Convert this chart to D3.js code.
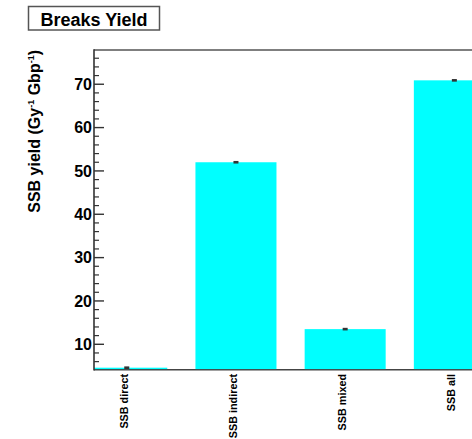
<!DOCTYPE html>
<html>
<head>
<meta charset="utf-8">
<script src="https://cdn.jsdelivr.net/npm/d3@7"></script>
<style>
  body { margin: 0; background: #fff; }
  text { font-family: "Liberation Sans", Arial, Helvetica, sans-serif; font-weight: bold; }
</style>
</head>
<body>
<div id="vis"></div>
<script>
var categories = ['SSB direct', 'SSB indirect', 'SSB mixed', 'SSB all'];
var yields = [4.6, 52.0, 13.5, 70.9];
var errors = [0.3, 0.3, 0.3, 0.3];
var majorTicks = [10, 20, 30, 40, 50, 60, 70];

var width = 472;
var height = 439;
var frame = {left: 94, top: 50, bottom: 369.3};

var svg = d3.select('#vis')
    .append('svg')
    .attr('width', width)
    .attr('height', height);

// bins are numbered 1..4, frame starts a little left of the first bar
var x = d3.scaleLinear()
    .domain([0.7, 4.5])
    .range([frame.left, frame.left + 3.8 * 109.2]);

var y = d3.scaleLinear()
    .domain([4.23, 77.9])
    .range([frame.bottom, frame.top]);

var barWidth = 0.742;

svg.append('defs').append('clipPath')
    .attr('id', 'frameclip')
    .append('rect')
    .attr('x', frame.left)
    .attr('y', frame.top)
    .attr('width', width - frame.left)
    .attr('height', frame.bottom - frame.top);

// bottom axis line, bars are drawn over it
svg.append('line')
    .attr('x1', frame.left).attr('x2', width)
    .attr('y1', frame.bottom + 0.5).attr('y2', frame.bottom + 0.5)
    .attr('stroke', '#444')
    .attr('stroke-width', 1.6);

var plot = svg.append('g').attr('clip-path', 'url(#frameclip)');

plot.selectAll('.bar')
    .data(yields)
    .enter().append('rect')
    .attr('class', 'bar')
    .attr('x', function (d, i) { return x(i + 1 - barWidth / 2); })
    .attr('width', function () { return x(barWidth) - x(0); })
    .attr('y', function (d) { return y(d); })
    .attr('height', function (d) { return frame.bottom - y(d); })
    .attr('fill', '#00ffff');

plot.selectAll('.err')
    .data(yields)
    .enter().append('rect')
    .attr('class', 'err')
    .attr('x', function (d, i) { return x(i + 1) - 2.5; })
    .attr('width', 5)
    .attr('y', function (d, i) { return y(d + errors[i]); })
    .attr('height', function (d, i) { return Math.max(2, y(d - errors[i]) - y(d + errors[i])); })
    .attr('fill', '#333');

// frame top
svg.append('line')
    .attr('x1', frame.left).attr('x2', width)
    .attr('y1', frame.top).attr('y2', frame.top)
    .attr('stroke', '#555')
    .attr('stroke-width', 1.5);

// y axis
var minorTicks = d3.range(6, 78, 2).filter(function (v) { return v % 10 !== 0; });

svg.append('line')
    .attr('x1', frame.left).attr('x2', frame.left)
    .attr('y1', frame.top - 0.7).attr('y2', frame.bottom + 1.3)
    .attr('stroke', '#333')
    .attr('stroke-width', 1.6);

svg.selectAll('.minor')
    .data(minorTicks)
    .enter().append('line')
    .attr('class', 'minor')
    .attr('x1', frame.left).attr('x2', frame.left + 5)
    .attr('y1', function (d) { return y(d); })
    .attr('y2', function (d) { return y(d); })
    .attr('stroke', '#333')
    .attr('stroke-width', 1.2);

svg.selectAll('.major')
    .data(majorTicks)
    .enter().append('line')
    .attr('class', 'major')
    .attr('x1', frame.left).attr('x2', frame.left + 10)
    .attr('y1', function (d) { return y(d); })
    .attr('y2', function (d) { return y(d); })
    .attr('stroke', '#333')
    .attr('stroke-width', 1.4);

svg.selectAll('.ylabel')
    .data(majorTicks)
    .enter().append('text')
    .attr('class', 'ylabel')
    .attr('x', frame.left - 2)
    .attr('y', function (d) { return y(d); })
    .attr('dy', '0.36em')
    .attr('text-anchor', 'end')
    .style('font-size', '16px')
    .style('fill', '#000')
    .text(function (d) { return d; });

// y title with superscripts
var ytitle = svg.append('text')
    .attr('transform', 'translate(39.5,' + frame.top + ') rotate(-90)')
    .attr('text-anchor', 'end')
    .style('font-size', '16px')
    .style('fill', '#000');
ytitle.append('tspan').text('SSB yield (Gy');
ytitle.append('tspan').attr('dy', -6).style('font-size', '9px').text('-1');
ytitle.append('tspan').attr('dy', 6).text(' Gbp');
ytitle.append('tspan').attr('dy', -6).style('font-size', '9px').text('-1');
ytitle.append('tspan').attr('dy', 6).text(')');

// x labels, vertical
svg.selectAll('.xlabel')
    .data(categories)
    .enter().append('text')
    .attr('class', 'xlabel')
    .attr('transform', function (d, i) {
        return 'translate(' + (x(i + 1) + 1) + ',374) rotate(-90)';
    })
    .attr('text-anchor', 'end')
    .style('font-size', '10.8px')
    .style('fill', '#000')
    .text(function (d) { return d; });

// title box
svg.append('rect')
    .attr('x', 28.5).attr('y', 6.5)
    .attr('width', 131).attr('height', 23.5)
    .attr('fill', '#fff')
    .attr('stroke', '#555')
    .attr('stroke-width', 1.5);

svg.append('text')
    .attr('x', 94)
    .attr('y', 26)
    .attr('text-anchor', 'middle')
    .style('font-size', '18px')
    .style('fill', '#000')
    .text('Breaks Yield');
</script>
</body>
</html>
